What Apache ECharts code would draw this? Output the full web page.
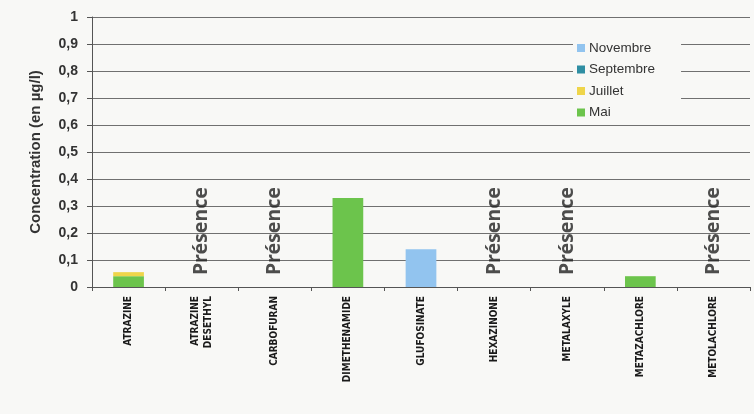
<!DOCTYPE html>
<html>
<head>
<meta charset="utf-8">
<script src="https://cdn.jsdelivr.net/npm/echarts@6/dist/echarts.min.js"></script>
<style>
html,body{margin:0;padding:0;background:#f8f8f6;}
#c{width:754px;height:414px;}
</style>
</head>
<body>
<div id="c"></div>
<script>
const categories = ['ATRAZINE', 'ATRAZINE\nDESETHYL', 'CARBOFURAN', 'DIMETHENAMIDE', 'GLUFOSINATE', 'HEXAZINONE', 'METALAXYLE', 'METAZACHLORE', 'METOLACHLORE'];
const mai = [0.04, 0, 0, 0.33, 0, 0, 0, 0.04, 0];
const juillet = [0.015, 0, 0, 0, 0, 0, 0, 0, 0];
const septembre = [0, 0, 0, 0, 0, 0, 0, 0, 0];
const novembre = [0, 0, 0, 0, 0.14, 0, 0, 0, 0];
const presence = [false, true, true, false, false, true, true, false, true];
const yTicks = ['0', '0,1', '0,2', '0,3', '0,4', '0,5', '0,6', '0,7', '0,8', '0,9', '1'];

const chart = echarts.init(document.getElementById('c'));
const barCommon = { type: 'bar', stack: 'total', barWidth: '42%' };
chart.setOption({
  backgroundColor: '#f8f8f6',
  animation: false,
  grid: { left: 92, right: 4, top: 17, bottom: 127 },
  legend: {
    data: ['Novembre', 'Septembre', 'Juillet', 'Mai'],
    orient: 'vertical',
    left: 573, top: 39,
    itemWidth: 8, itemHeight: 8, itemGap: 7.5,
    backgroundColor: '#f8f8f6',
    padding: [2, 26, 2, 4],
    textStyle: { fontFamily: 'Liberation Sans, Arial', fontSize: 13.5, color: '#333', padding: [0, 0, 0, -1] },
    icon: 'rect'
  },
  xAxis: {
    type: 'category',
    data: categories,
    axisLine: { lineStyle: { color: '#555', width: 1 } },
    axisTick: { show: true, length: 4, lineStyle: { color: '#555' } },
    axisLabel: {
      rotate: 90, interval: 0, margin: 9,
      fontFamily: 'DejaVu Sans Condensed, Liberation Sans, Arial', fontWeight: 'bold',
      fontSize: 10, color: '#1a1a1a', lineHeight: 13
    }
  },
  yAxis: {
    type: 'value', min: 0, max: 1, interval: 0.1,
    name: 'Concentration (en µg/l)',
    nameLocation: 'middle', nameGap: 49, nameRotate: 90,
    nameTextStyle: { fontFamily: 'Liberation Sans', fontWeight: 'bold', fontSize: 15, color: '#333' },
    axisLine: { show: true, lineStyle: { color: '#555' } },
    axisTick: { show: true, length: 5, lineStyle: { color: '#555' } },
    axisLabel: {
      fontFamily: 'Liberation Sans, Arial', fontWeight: 'bold', fontSize: 14, color: '#333', margin: 14,
      formatter: (v) => yTicks[Math.round(v * 10)]
    },
    splitLine: { lineStyle: { color: '#707070', width: 1 } }
  },
  series: [
    Object.assign({ name: 'Mai', data: mai, itemStyle: { color: '#6cc44c' } }, barCommon),
    Object.assign({ name: 'Juillet', data: juillet, itemStyle: { color: '#efd54a' } }, barCommon),
    Object.assign({ name: 'Septembre', data: septembre, itemStyle: { color: '#2f8ea3' } }, barCommon),
    Object.assign({ name: 'Novembre', data: novembre, itemStyle: { color: '#92c4ef' } }, barCommon),
    {
      name: 'Présence', type: 'scatter', symbolSize: 0, silent: true,
      data: presence.map((p, i) => p ? [i, 0] : null).filter(d => d),
      label: {
        show: true, formatter: 'Présence', rotate: 90,
        position: 'inside', align: 'left', verticalAlign: 'middle',
        offset: [12, 0],
        fontFamily: 'Noto Sans', fontWeight: 'bold', fontSize: 19.5, color: '#222'
      }
    }
  ]
});
</script>
</body>
</html>
